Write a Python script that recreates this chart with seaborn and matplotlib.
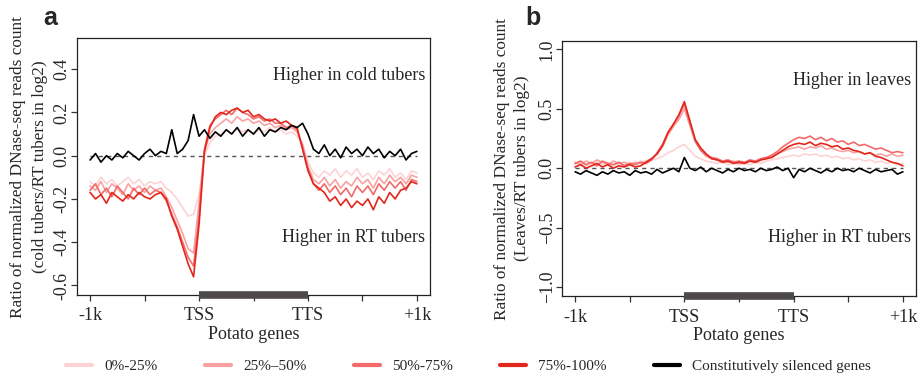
import numpy as np
import pandas as pd
import matplotlib
matplotlib.use('Agg')
import matplotlib.pyplot as plt
from matplotlib.lines import Line2D
import seaborn as sns

# bins along the gene body: -1k .. TSS .. TTS .. +1k
positions = np.linspace(0, 6, 61)
x_ticks = [0, 1, 2, 3, 4, 5, 6]
x_labels = ['-1k', '', 'TSS', '', 'TTS', '', '+1k']

groups = ['0%-25%', '25%\u201350%', '50%-75%', '75%-100%', 'Constitutively silenced genes']
colors = ['#fdd3d4', '#f9a2a2', '#f26a6a', '#e2261c', '#000000']

# panel a: cold tubers / RT tubers
a_q1 = [-0.12, -0.14, -0.10, -0.13, -0.11, -0.14, -0.12, -0.10, -0.13, -0.11,
        -0.14, -0.12, -0.13, -0.12, -0.15, -0.17, -0.20, -0.24, -0.28, -0.27,
        -0.18, 0.00, 0.06, 0.09, 0.10, 0.12, 0.10, 0.13, 0.11, 0.12,
        0.10, 0.12, 0.11, 0.13, 0.11, 0.12, 0.10, 0.11, 0.09, 0.06,
        -0.03, -0.08, -0.10, -0.07, -0.09, -0.06, -0.10, -0.07, -0.09, -0.06,
        -0.10, -0.08, -0.11, -0.07, -0.09, -0.06, -0.10, -0.08, -0.11, -0.07,
        -0.08]
a_q2 = [-0.14, -0.16, -0.12, -0.17, -0.13, -0.15, -0.18, -0.13, -0.16, -0.14,
        -0.17, -0.14, -0.16, -0.15, -0.19, -0.24, -0.30, -0.36, -0.43, -0.45,
        -0.22, 0.02, 0.10, 0.13, 0.15, 0.17, 0.15, 0.18, 0.16, 0.17,
        0.15, 0.16, 0.14, 0.15, 0.13, 0.14, 0.12, 0.13, 0.11, 0.05,
        -0.05, -0.11, -0.13, -0.10, -0.14, -0.11, -0.15, -0.12, -0.14, -0.10,
        -0.13, -0.11, -0.15, -0.10, -0.13, -0.09, -0.12, -0.10, -0.13, -0.09,
        -0.10]
a_q3 = [-0.16, -0.13, -0.18, -0.15, -0.19, -0.14, -0.17, -0.20, -0.15, -0.18,
        -0.15, -0.18, -0.16, -0.17, -0.21, -0.27, -0.33, -0.40, -0.47, -0.51,
        -0.28, 0.03, 0.14, 0.17, 0.19, 0.21, 0.19, 0.22, 0.20, 0.19,
        0.17, 0.18, 0.16, 0.17, 0.15, 0.15, 0.13, 0.14, 0.12, 0.04,
        -0.06, -0.13, -0.16, -0.13, -0.17, -0.14, -0.18, -0.15, -0.19, -0.14,
        -0.17, -0.14, -0.18, -0.13, -0.16, -0.12, -0.15, -0.12, -0.16, -0.11,
        -0.12]
a_q4 = [-0.17, -0.20, -0.18, -0.22, -0.17, -0.19, -0.21, -0.18, -0.20, -0.17,
        -0.19, -0.20, -0.18, -0.17, -0.20, -0.28, -0.34, -0.42, -0.50, -0.56,
        -0.32, 0.02, 0.13, 0.18, 0.20, 0.19, 0.21, 0.22, 0.20, 0.21,
        0.18, 0.19, 0.17, 0.16, 0.17, 0.15, 0.16, 0.14, 0.13, 0.03,
        -0.07, -0.13, -0.15, -0.17, -0.21, -0.19, -0.23, -0.20, -0.24, -0.21,
        -0.23, -0.20, -0.25, -0.19, -0.22, -0.17, -0.20, -0.16, -0.15, -0.12,
        -0.13]
a_sil = [-0.02, 0.01, -0.03, 0.00, -0.02, 0.01, -0.01, 0.02, 0.00, -0.02,
         0.01, 0.03, 0.00, 0.02, 0.01, 0.12, 0.01, 0.03, 0.07, 0.19,
         0.09, 0.12, 0.08, 0.11, 0.09, 0.12, 0.10, 0.13, 0.09, 0.12,
         0.10, 0.13, 0.09, 0.12, 0.11, 0.13, 0.12, 0.14, 0.13, 0.15,
         0.10, 0.03, 0.01, 0.05, 0.00, 0.03, -0.01, 0.04, 0.01, 0.03,
         0.00, 0.04, 0.01, 0.03, -0.01, 0.02, 0.00, 0.03, -0.02, 0.01,
         0.02]

# panel b: leaves / RT tubers
b_q1 = [0.03, 0.05, 0.02, 0.04, 0.06, 0.03, 0.05, 0.02, 0.04, 0.03,
        0.05, 0.04, 0.06, 0.05, 0.07, 0.08, 0.10, 0.13, 0.15, 0.18,
        0.20, 0.15, 0.10, 0.08, 0.06, 0.05, 0.04, 0.05, 0.03, 0.04,
        0.03, 0.04, 0.03, 0.05, 0.04, 0.06, 0.07, 0.08, 0.09, 0.10,
        0.11, 0.10, 0.12, 0.11, 0.12, 0.10, 0.11, 0.09, 0.10, 0.08,
        0.09, 0.07, 0.08, 0.06, 0.07, 0.05, 0.06, 0.04, 0.05, 0.03,
        0.04]
b_q2 = [0.05, 0.03, 0.06, 0.04, 0.07, 0.05, 0.03, 0.06, 0.04, 0.05,
        0.03, 0.05, 0.04, 0.06, 0.08, 0.12, 0.18, 0.28, 0.35, 0.41,
        0.50, 0.36, 0.22, 0.15, 0.10, 0.08, 0.07, 0.06, 0.05, 0.06,
        0.04, 0.05, 0.06, 0.05, 0.07, 0.08, 0.10, 0.12, 0.14, 0.16,
        0.17, 0.18, 0.16, 0.18, 0.17, 0.19, 0.16, 0.17, 0.15, 0.14,
        0.15, 0.13, 0.14, 0.12, 0.13, 0.11, 0.12, 0.10, 0.12, 0.10,
        0.11]
b_q3 = [0.04, 0.06, 0.03, 0.05, 0.02, 0.06, 0.04, 0.03, 0.05, 0.02,
        0.04, 0.03, 0.05, 0.04, 0.07, 0.13, 0.20, 0.30, 0.37, 0.44,
        0.54, 0.38, 0.23, 0.15, 0.11, 0.09, 0.08, 0.06, 0.07, 0.05,
        0.06, 0.05, 0.07, 0.06, 0.08, 0.09, 0.11, 0.14, 0.18, 0.21,
        0.24, 0.26, 0.25, 0.27, 0.24, 0.26, 0.23, 0.25, 0.22, 0.23,
        0.20, 0.22, 0.19, 0.20, 0.18, 0.16, 0.17, 0.15, 0.13, 0.14,
        0.13]
b_q4 = [0.01, 0.03, 0.00, 0.02, 0.04, 0.01, 0.03, 0.00, 0.02, 0.01,
        0.03, 0.01, 0.02, 0.05, 0.08, 0.12, 0.19, 0.30, 0.37, 0.45,
        0.56, 0.40, 0.24, 0.17, 0.12, 0.08, 0.07, 0.05, 0.06, 0.04,
        0.05, 0.04, 0.06, 0.05, 0.07, 0.08, 0.09, 0.12, 0.15, 0.18,
        0.20, 0.21, 0.20, 0.22, 0.19, 0.21, 0.20, 0.18, 0.19, 0.16,
        0.17, 0.15, 0.14, 0.12, 0.13, 0.10, 0.09, 0.07, 0.05, 0.04,
        0.02]
b_sil = [-0.03, -0.05, -0.02, -0.04, -0.06, -0.03, -0.05, -0.02, -0.04, -0.03,
         -0.06, -0.02, -0.04, -0.03, -0.05, -0.01, -0.04, -0.02, 0.00, -0.03,
         0.09, 0.00, -0.02, 0.01, -0.03, 0.00, -0.02, -0.04, -0.01, -0.03,
         0.00, -0.02, -0.01, -0.03, 0.00, -0.02, -0.01, 0.01, -0.02, 0.00,
         -0.08, -0.01, -0.03, 0.00, -0.02, -0.04, -0.01, -0.03, 0.00, -0.02,
         -0.01, -0.03, 0.00, -0.02, -0.04, -0.01, -0.03, -0.02, -0.01, -0.05,
         -0.03]

a_yticks = [-0.6, -0.4, -0.2, 0.0, 0.2, 0.4]
a_ylabels = ['-0.6', '-0.4', '-0.2', '0.0', '0.2', '0.4']
b_yticks = [-1.0, -0.5, 0.0, 0.5, 1.0]
b_ylabels = ['\u22121.0', '\u22120.5', '0.0', '0.5', '1.0']


def long_table(series):
    frames = []
    for name, vals in zip(groups, series):
        frames.append(pd.DataFrame({'pos': positions, 'ratio': vals, 'group': name}))
    return pd.concat(frames, ignore_index=True)


sns.set_style('ticks')
plt.rcParams['font.family'] = ['Liberation Serif', 'DejaVu Serif']
plt.rcParams['axes.linewidth'] = 0.9

fig = plt.figure(figsize=(9.19, 3.77), dpi=100)
ax_a = fig.add_axes([77 / 919, 82 / 377, 353 / 919, 257 / 377])
ax_b = fig.add_axes([562 / 919, 81 / 377, 354 / 919, 255 / 377])

panels = [
    (ax_a, [a_q1, a_q2, a_q3, a_q4, a_sil], (-0.644, 0.544), a_yticks, a_ylabels,
     '(cold tubers/RT tubers in log2)', -0.166, -0.105,
     'Higher in cold tubers', 0.37, 'Higher in RT tubers', -0.38),
    (ax_b, [b_q1, b_q2, b_q3, b_q4, b_sil], (-1.075, 1.07), b_yticks, b_ylabels,
     '(Leaves/RT tubers in log2)', -0.170, -0.113,
     'Higher in leaves', 0.74, 'Higher in RT tubers', -0.58),
]

for ax, series, ylim, yt, ytl, ylab2, x1, x2, top_txt, top_y, bot_txt, bot_y in panels:
    df = long_table(series)
    ax.plot([0, 6], [0, 0], ls=(0, (3, 3)), color='#555555', lw=1, zorder=1)
    sns.lineplot(data=df, x='pos', y='ratio', hue='group', hue_order=groups,
                 palette=colors, linewidth=1.2, errorbar=None, legend=False,
                 ax=ax, zorder=2)
    ax.set_xlim(-0.24, 6.24)
    ax.set_ylim(*ylim)
    ax.set_xticks(x_ticks)
    ax.set_xticklabels(x_labels, fontsize=13)
    ax.set_yticks(yt)
    ax.set_yticklabels(ytl, fontsize=13, rotation=90, va='center')
    ax.tick_params(axis='both', length=4, width=0.9, color='#333333')
    ax.tick_params(axis='x', pad=5)
    ax.tick_params(axis='y', pad=0.5)
    ax.set_xlabel('Potato genes', fontsize=13, labelpad=1)
    ax.set_ylabel('')
    # two-line y label, each line placed on its own
    ax.text(x1, 0.5, 'Ratio of normalized DNase-seq reads count', rotation=90,
            ha='center', va='center', fontsize=12.4, transform=ax.transAxes)
    ax.text(x2, 0.5, ylab2, rotation=90, ha='center', va='center',
            fontsize=12.4, transform=ax.transAxes)
    for side in ['top', 'right', 'left', 'bottom']:
        ax.spines[side].set_visible(True)
        ax.spines[side].set_color('#222222')
    # gene body bar from TSS to TTS
    ax.plot([2, 4], [ylim[0], ylim[0]], color='#4f4a4a', lw=5.5,
            solid_capstyle='butt', clip_on=False, zorder=5)
    ax.text(6.15, top_y, top_txt, ha='right', va='center', fontsize=13)
    ax.text(6.15, bot_y, bot_txt, ha='right', va='center', fontsize=13)

fig.text(50 / 919, 1 - 18 / 377, 'a', ha='center', va='center', fontsize=18,
         fontweight='bold', family=['Liberation Sans', 'DejaVu Sans'])
fig.text(533 / 919, 1 - 18 / 377, 'b', ha='center', va='center', fontsize=18,
         fontweight='bold', family=['Liberation Sans', 'DejaVu Sans'])

handles = [Line2D([], [], color=c, lw=3) for c in colors]
fig.legend(handles, groups, loc='center', bbox_to_anchor=(0.51, 1 - 366 / 377),
           ncol=5, frameon=False, fontsize=11, handlelength=1.7,
           columnspacing=3.1, handletextpad=0.8)

fig.savefig('out.png', dpi=100)
